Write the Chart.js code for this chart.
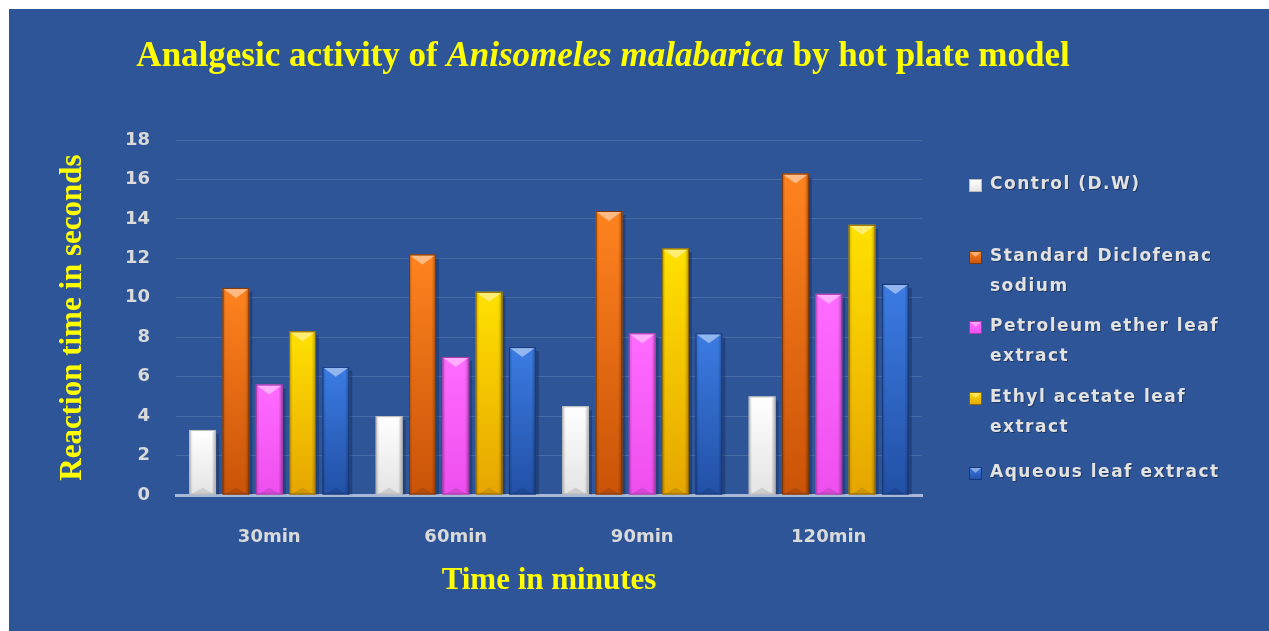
<!DOCTYPE html>
<html>
<head>
<meta charset="utf-8">
<title>Analgesic activity of Anisomeles malabarica by hot plate model</title>
<script src="https://cdn.jsdelivr.net/npm/chart.js@4/dist/chart.umd.min.js"></script>
<style>
  html, body { margin: 0; padding: 0; background: #ffffff; overflow: hidden; }
  #wrap { width: 1269px; height: 631px; position: relative; }
  canvas { display: block; }
</style>
</head>
<body>
<div id="wrap"><canvas id="chart" width="1269" height="631"></canvas></div>
<script>
// Observation times (x categories)
const categories = ['30min', '60min', '90min', '120min'];

// Reaction time in seconds for each treatment group
const control        = [3.3, 4.0, 4.5, 5.0];
const diclofenac     = [10.5, 12.2, 14.4, 16.3];
const petroleumEther = [5.6, 7.0, 8.2, 10.2];
const ethylAcetate   = [8.3, 10.3, 12.5, 13.7];
const aqueous        = [6.5, 7.5, 8.2, 10.7];

// Legend labels (wrapped lines)
const seriesLabels = [
  ['Control (D.W)'],
  ['Standard Diclofenac', 'sodium'],
  ['Petroleum ether leaf', 'extract'],
  ['Ethyl acetate leaf', 'extract'],
  ['Aqueous leaf extract']
];

// Y axis range and tick step
const yMin = 0;
const yMax = 18;
const yStep = 2;

// Bar face colours: top of bar, bottom of bar, outline
const palette = [
  { top: '#FFFFFF', bottom: '#E4E4E4', edge: '#B8B8B8' },
  { top: '#FF831F', bottom: '#C95308', edge: '#7E3504' },
  { top: '#FF6BFF', bottom: '#EE4FEE', edge: '#A83AA8' },
  { top: '#FFE100', bottom: '#E6A500', edge: '#8E6600' },
  { top: '#3B7CE3', bottom: '#2250A6', edge: '#16387A' }
];

const seriesValues = [control, diclofenac, petroleumEther, ethylAcetate, aqueous];

function barFill(i) {
  return (ctx) => {
    const chart = ctx.chart;
    const ys = chart.scales && chart.scales.y;
    if (!ys || !chart.chartArea || ctx.raw === undefined) return palette[i].top;
    const top = ys.getPixelForValue(ctx.raw);
    const bottom = ys.getPixelForValue(0);
    const g = chart.ctx.createLinearGradient(0, top, 0, bottom);
    g.addColorStop(0, palette[i].top);
    g.addColorStop(1, palette[i].bottom);
    return g;
  };
}

// Panel background
const backgroundPlugin = {
  id: 'panelBackground',
  beforeDraw(chart) {
    const c = chart.ctx;
    c.save();
    c.fillStyle = '#FFFFFF';
    c.fillRect(0, 0, chart.width, chart.height);
    c.fillStyle = '#2E5597';
    c.fillRect(9, 9, chart.width - 9, chart.height - 9);
    c.restore();
  }
};

// Bevel, side shading and drop shadow on each bar
const bevelPlugin = {
  id: 'barBevel',
  beforeDatasetsDraw(chart) {
    const c = chart.ctx;
    c.save();
    chart.data.datasets.forEach((ds, di) => {
      chart.getDatasetMeta(di).data.forEach((el) => {
        const { x, y, base, width } = el.getProps(['x', 'y', 'base', 'width'], true);
        const right = x + width / 2;
        c.fillStyle = 'rgba(15, 30, 70, 0.35)';
        c.fillRect(right, y + 4, 3, base - y - 4);
      });
    });
    c.restore();
  },
  afterDatasetsDraw(chart) {
    const c = chart.ctx;
    c.save();
    chart.data.datasets.forEach((ds, di) => {
      const pal = palette[di];
      chart.getDatasetMeta(di).data.forEach((el) => {
        const { x, y, base, width } = el.getProps(['x', 'y', 'base', 'width'], true);
        const left = x - width / 2;
        const right = x + width / 2;
        const h = base - y;
        // side shading
        const sg = c.createLinearGradient(left, 0, right, 0);
        sg.addColorStop(0, 'rgba(0,0,0,0.22)');
        sg.addColorStop(0.13, 'rgba(0,0,0,0)');
        sg.addColorStop(0.84, 'rgba(0,0,0,0)');
        sg.addColorStop(1, 'rgba(0,0,0,0.30)');
        c.fillStyle = sg;
        c.fillRect(left, y, width, h);
        // top chevron highlight
        const depth = Math.min(10, h / 2);
        c.beginPath();
        c.moveTo(left + 1, y + 1);
        c.lineTo(right - 1, y + 1);
        c.lineTo(x, y + depth);
        c.closePath();
        c.fillStyle = 'rgba(255,255,255,0.45)';
        c.fill();
        // bottom chevron shade
        c.beginPath();
        c.moveTo(left + 2, base);
        c.lineTo(right - 2, base);
        c.lineTo(x, base - Math.min(7, h / 2));
        c.closePath();
        c.fillStyle = 'rgba(0,0,0,0.10)';
        c.fill();
        // outline
        c.strokeStyle = pal.edge;
        c.lineWidth = 1;
        c.strokeRect(left + 0.5, y + 0.5, width - 1, h - 1);
      });
    });
    c.restore();
  }
};

// Chart title with italic species name
const titlePlugin = {
  id: 'mixedTitle',
  afterDraw(chart) {
    const c = chart.ctx;
    const parts = [
      { text: 'Analgesic activity of ', font: 'bold 35px "Liberation Serif", "Times New Roman", serif' },
      { text: 'Anisomeles malabarica', font: 'italic bold 35px "Liberation Serif", "Times New Roman", serif' },
      { text: ' by hot plate model', font: 'bold 35px "Liberation Serif", "Times New Roman", serif' }
    ];
    c.save();
    let total = 0;
    parts.forEach(p => { c.font = p.font; p.w = c.measureText(p.text).width; total += p.w; });
    let xPos = 603 - total / 2;
    c.fillStyle = '#FFFF00';
    c.textBaseline = 'alphabetic';
    c.textAlign = 'left';
    parts.forEach(p => { c.font = p.font; c.fillText(p.text, xPos, 66); xPos += p.w; });
    c.restore();
  }
};

// Legend on the right
const legendPlugin = {
  id: 'sideLegend',
  afterDraw(chart) {
    const c = chart.ctx;
    const rows = [185, 257, 327, 398, 473];
    c.save();
    c.font = 'bold 17px "DejaVu Sans", Verdana, sans-serif';
    if ('letterSpacing' in c) c.letterSpacing = '1.5px';
    c.textBaseline = 'middle';
    c.textAlign = 'left';
    chart.data.datasets.forEach((ds, i) => {
      const cy = rows[i];
      const pal = palette[i];
      const g = c.createLinearGradient(0, cy - 6, 0, cy + 7);
      g.addColorStop(0, pal.top);
      g.addColorStop(1, pal.bottom);
      c.fillStyle = g;
      c.fillRect(969, cy - 6, 13, 13);
      c.beginPath();
      c.moveTo(969, cy - 6);
      c.lineTo(982, cy - 6);
      c.lineTo(975.5, cy);
      c.closePath();
      c.fillStyle = 'rgba(255,255,255,0.4)';
      c.fill();
      c.strokeStyle = pal.edge;
      c.strokeRect(969.5, cy - 5.5, 12, 12);
      ds.legendLines.forEach((line, li) => {
        const ty = cy + li * 30;
        c.fillStyle = 'rgba(0,0,0,0.35)';
        c.fillText(line, 991, ty + 1);
        c.fillStyle = '#E2E2E2';
        c.fillText(line, 990, ty);
      });
    });
    c.restore();
  }
};

const tickFont = { family: '"DejaVu Sans", Verdana, sans-serif', weight: 'bold', size: 18 };
const axisTitleFont = { family: '"Liberation Serif", "Times New Roman", serif', weight: 'bold', size: 31 };

const datasets = seriesValues.map((vals, i) => ({
  label: seriesLabels[i].join(' '),
  legendLines: seriesLabels[i],
  data: vals,
  backgroundColor: barFill(i),
  borderWidth: 0,
  categoryPercentage: 0.893,
  barPercentage: 0.805
}));

new Chart(document.getElementById('chart'), {
  type: 'bar',
  data: { labels: categories, datasets },
  options: {
    responsive: false,
    animation: false,
    devicePixelRatio: 1,
    layout: { padding: { left: 54, right: 347, top: 140, bottom: 31 } },
    plugins: {
      legend: { display: false },
      tooltip: { enabled: false },
      title: { display: false }
    },
    scales: {
      x: {
        grid: { display: false, drawTicks: false },
        border: { display: true, color: '#A9B8D6', width: 3 },
        ticks: { color: '#DADADA', font: tickFont, padding: 32 },
        title: { display: true, text: 'Time in minutes', color: '#FFFF00', font: axisTitleFont, padding: 0 },
        afterFit(scale) { scale.height = 105; }
      },
      y: {
        min: yMin,
        max: yMax,
        grid: { color: 'rgba(255,255,255,0.13)', lineWidth: 1, drawTicks: false },
        border: { display: false },
        ticks: { stepSize: yStep, color: '#DADADA', font: tickFont, padding: 26 },
        title: { display: true, text: 'Reaction time in seconds', color: '#FFFF00', font: axisTitleFont, padding: 0 },
        afterFit(scale) { scale.width = 122; }
      }
    }
  },
  plugins: [backgroundPlugin, bevelPlugin, titlePlugin, legendPlugin]
});
</script>
</body>
</html>
